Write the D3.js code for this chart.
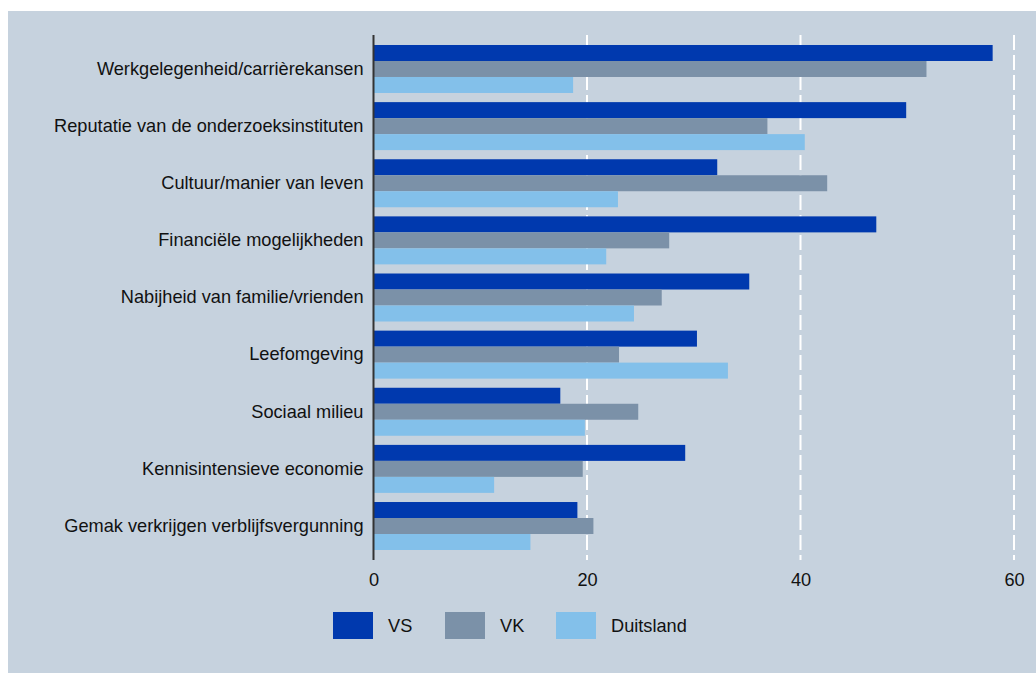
<!DOCTYPE html>
<html>
<head>
<meta charset="utf-8">
<script src="https://cdn.jsdelivr.net/npm/d3@7"></script>
<style>
  html, body { margin: 0; padding: 0; background: #ffffff; }
  svg { display: block; }
  text { font-family: "Liberation Sans", Arial, sans-serif; }
</style>
</head>
<body>
<svg id="chart" width="1036" height="673"></svg>
<script>
const categories = [
  "Werkgelegenheid/carrièrekansen",
  "Reputatie van de onderzoeksinstituten",
  "Cultuur/manier van leven",
  "Financiële mogelijkheden",
  "Nabijheid van familie/vrienden",
  "Leefomgeving",
  "Sociaal milieu",
  "Kennisintensieve economie",
  "Gemak verkrijgen verblijfsvergunning"
];
const seriesNames = ["VS", "VK", "Duitsland"];
const valuesVS = [58.0, 49.9, 32.2, 47.1, 35.2, 30.3, 17.5, 29.2, 19.1];
const valuesVK = [51.8, 36.9, 42.5, 27.7, 27.0, 23.0, 24.8, 19.6, 20.6];
const valuesDE = [18.7, 40.4, 22.9, 21.8, 24.4, 33.2, 19.8, 11.3, 14.7];
const tickValues = [0, 20, 40, 60];
const colors = ["#0039ae", "#7b91a8", "#83c0ea"];

const seriesValues = [valuesVS, valuesVK, valuesDE];
const rows = categories.map((c, i) => ({
  cat: c,
  vals: seriesNames.map((s, j) => ({ key: s, value: seriesValues[j][i], color: colors[j] }))
}));

const FS = 18.2;
const svg = d3.select("#chart");

// panel background
svg.append("rect")
  .attr("x", 8).attr("y", 11)
  .attr("width", 1036 - 8).attr("height", 673 - 11)
  .attr("fill", "#c6d2de");

const x = d3.scaleLinear().domain([0, 60]).range([373.5, 1014]);
const y = d3.scaleBand().domain(categories)
  .range([35, 560]).paddingInner(0.16).paddingOuter(0.175);
const ySub = d3.scaleBand().domain(seriesNames).range([0, y.bandwidth()]).padding(0);

// gridlines
svg.append("g").selectAll("line")
  .data(tickValues.filter(d => d > 0))
  .join("line")
  .attr("x1", d => x(d)).attr("x2", d => x(d))
  .attr("y1", 35).attr("y2", 560)
  .attr("stroke", "#ffffff")
  .attr("stroke-width", 2)
  .attr("stroke-dasharray", "15,5");

// bars
const groups = svg.append("g").selectAll("g")
  .data(rows)
  .join("g")
  .attr("transform", d => `translate(0,${y(d.cat)})`);

groups.selectAll("rect")
  .data(d => d.vals)
  .join("rect")
  .attr("x", x(0))
  .attr("y", d => ySub(d.key))
  .attr("width", d => x(d.value) - x(0))
  .attr("height", ySub.bandwidth())
  .attr("fill", d => d.color);

// y axis line
svg.append("line")
  .attr("x1", x(0)).attr("x2", x(0))
  .attr("y1", 35).attr("y2", 560)
  .attr("stroke", "#333333")
  .attr("stroke-width", 2);

// category labels
const yAxis = d3.axisLeft(y).tickSize(0).tickPadding(10);
const yg = svg.append("g").attr("transform", `translate(${x(0)},0)`).call(yAxis);
yg.select(".domain").remove();
yg.selectAll("text")
  .attr("font-size", FS)
  .attr("fill", "#111111")
  .style("font-family", "'Liberation Sans', Arial, sans-serif");

// x tick labels
const xAxis = d3.axisBottom(x).tickValues(tickValues).tickSize(0).tickPadding(0).tickFormat(d3.format("d"));
const xg = svg.append("g").attr("transform", `translate(0,573)`).call(xAxis);
xg.select(".domain").remove();
xg.selectAll("text")
  .attr("font-size", FS)
  .attr("fill", "#111111")
  .attr("dy", "0.71em")
  .attr("y", 0)
  .style("font-family", "'Liberation Sans', Arial, sans-serif");

// legend
const legendX = [333, 445, 556];
const lg = svg.append("g").selectAll("g")
  .data(seriesNames)
  .join("g")
  .attr("transform", (d, i) => `translate(${legendX[i]},612)`);
lg.append("rect")
  .attr("width", 40).attr("height", 27)
  .attr("fill", (d, i) => colors[i]);
lg.append("text")
  .attr("x", 55).attr("y", 13.5)
  .attr("dy", "0.35em")
  .attr("font-size", FS)
  .attr("fill", "#111111")
  .text(d => d);
</script>
</body>
</html>
